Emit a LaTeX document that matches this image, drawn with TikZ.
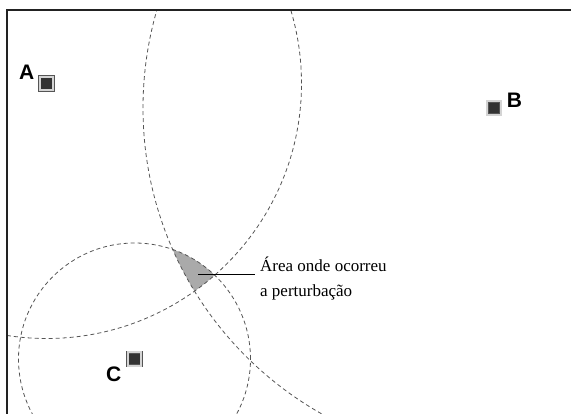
\documentclass[tikz,border=0pt]{standalone}
\usepackage{fontspec}
\setmainfont{Liberation Serif}
\newfontfamily\labelfont{Liberation Sans}
\usepackage{xcolor}
\definecolor{cFrame}{HTML}{222222}
\definecolor{cRing}{HTML}{555555}
\definecolor{cDark}{HTML}{333333}
\definecolor{cLight}{HTML}{D4D4D4}
\definecolor{cArea}{HTML}{AAAAAA}
\usetikzlibrary{positioning}
\tikzset{
  node-station/.style={rectangle,inner sep=0pt,minimum size=13.5pt,
    fill=cDark,draw=cRing,line width=0.7pt,double=cLight,double distance=1.8pt},
  node-name/.style={inner sep=0pt,font=\labelfont\bfseries\fontsize{21}{25}\selectfont},
  node-note/.style={inner sep=0pt,align=left,font=\fontsize{17}{25}\selectfont},
  range-circle/.style={draw=cRing,line width=0.8pt,dash pattern=on 4pt off 3pt},
  leader/.style={draw=black,line width=0.8pt},
}
\begin{document}
\begin{tikzpicture}[x=1pt,y=-1pt]
  \useasboundingbox (0,0) rectangle (571,414);

  % estacoes
  \node[node-station] (A) at (46.5,83.5) {};
  \node[node-station] (B) at (494,108) {};
  \node[node-station] (C) at (134.5,359) {};
  \node[node-name,above left=-3pt and 5pt of A.north west] (lA) {A};
  \node[node-name,above right=-6.5pt and 5.5pt of B.north east] (lB) {B};
  \node[node-name,below left=1pt and 6pt of C.south west] (lC) {C};

  % area comum aos tres circulos
  \begin{scope}
    \clip (A) circle[radius=255pt];
    \clip (B) circle[radius=351pt];
    \fill[cArea] (C) circle[radius=116pt];
  \end{scope}

  % circulos de alcance
  \begin{scope}
    \clip (7,10) rectangle (571,414);
    \draw[range-circle] (A) circle[radius=255pt];
    \draw[range-circle] (B) circle[radius=351pt];
    \draw[range-circle] (C) circle[radius=116pt];
  \end{scope}

  % moldura
  \draw[cFrame,line width=1.4pt] (7,414) |- (571,10);

  % legenda
  \coordinate (lead) at (198,274);
  \node[node-note,anchor=base west] (note) at (260,296.7)
    {Área onde ocorreu\\a perturbação};
  \draw[leader] (lead) -- ([xshift=-5pt]lead -| note.west);
\end{tikzpicture}
\end{document}
